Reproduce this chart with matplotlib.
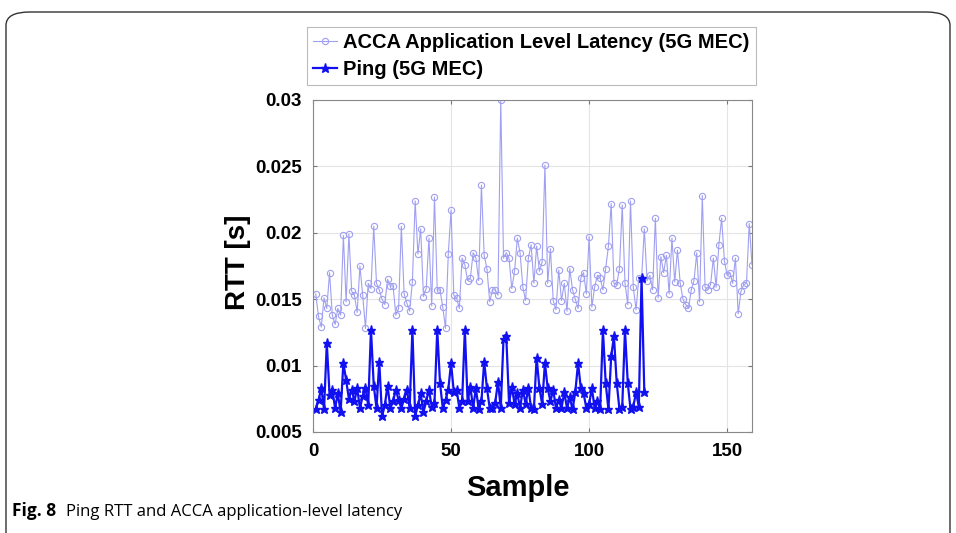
import numpy as np
import matplotlib
matplotlib.use('Agg')
import matplotlib.pyplot as plt
from matplotlib.patches import FancyBboxPatch

# ACCA application level latency (5G MEC), samples 1..159
acca = [0.0154, 0.0137, 0.0129, 0.0151, 0.0143, 0.0170, 0.0138, 0.0131, 0.0143, 0.0138,
        0.0198, 0.0148, 0.0199, 0.0156, 0.0153, 0.0140, 0.0175, 0.0153, 0.0128, 0.0162,
        0.0158, 0.0205, 0.0162, 0.0157, 0.0150, 0.0146, 0.0165, 0.0160, 0.0160, 0.0138,
        0.0143, 0.0205, 0.0154, 0.0147, 0.0141, 0.0163, 0.0224, 0.0184, 0.0203, 0.0152,
        0.0158, 0.0196, 0.0145, 0.0227, 0.0157, 0.0157, 0.0144, 0.0128, 0.0184, 0.0217,
        0.0153, 0.0151, 0.0143, 0.0181, 0.0176, 0.0164, 0.0166, 0.0185, 0.0181, 0.0164,
        0.0236, 0.0183, 0.0173, 0.0148, 0.0157, 0.0157, 0.0153, 0.0300, 0.0181, 0.0185,
        0.0181, 0.0158, 0.0171, 0.0196, 0.0185, 0.0159, 0.0149, 0.0181, 0.0191, 0.0162,
        0.0190, 0.0171, 0.0178, 0.0251, 0.0162, 0.0188, 0.0149, 0.0142, 0.0172, 0.0149,
        0.0162, 0.0141, 0.0173, 0.0157, 0.0150, 0.0143, 0.0166, 0.0170, 0.0154, 0.0197,
        0.0144, 0.0159, 0.0168, 0.0166, 0.0157, 0.0173, 0.0190, 0.0222, 0.0162, 0.0161,
        0.0173, 0.0221, 0.0162, 0.0146, 0.0224, 0.0159, 0.0142, 0.0166, 0.0165, 0.0203,
        0.0164, 0.0168, 0.0157, 0.0211, 0.0151, 0.0182, 0.0170, 0.0183, 0.0154, 0.0196,
        0.0163, 0.0187, 0.0162, 0.0150, 0.0146, 0.0143, 0.0157, 0.0164, 0.0185, 0.0148,
        0.0228, 0.0159, 0.0157, 0.0161, 0.0181, 0.0159, 0.0191, 0.0211, 0.0179, 0.0168,
        0.0170, 0.0162, 0.0181, 0.0139, 0.0156, 0.0161, 0.0162, 0.0207, 0.0176]

# Ping RTT (5G MEC), samples 1..120
ping = [0.0067, 0.0074, 0.0083, 0.0067, 0.0117, 0.0078, 0.0082, 0.0068, 0.0079, 0.0065,
        0.0102, 0.0089, 0.0075, 0.0082, 0.0073, 0.0083, 0.0068, 0.0077, 0.0083, 0.0070,
        0.0127, 0.0085, 0.0068, 0.0103, 0.0062, 0.0070, 0.0085, 0.0068, 0.0073, 0.0082,
        0.0074, 0.0068, 0.0075, 0.0082, 0.0068, 0.0127, 0.0062, 0.0070, 0.0079, 0.0065,
        0.0073, 0.0082, 0.0069, 0.0072, 0.0127, 0.0087, 0.0068, 0.0074, 0.0082, 0.0102,
        0.0080, 0.0082, 0.0068, 0.0073, 0.0127, 0.0073, 0.0084, 0.0068, 0.0083, 0.0067,
        0.0073, 0.0103, 0.0083, 0.0068, 0.0068, 0.0072, 0.0088, 0.0068, 0.0120, 0.0122,
        0.0072, 0.0084, 0.0071, 0.0079, 0.0068, 0.0082, 0.0071, 0.0083, 0.0068, 0.0067,
        0.0106, 0.0083, 0.0071, 0.0102, 0.0083, 0.0073, 0.0082, 0.0068, 0.0074, 0.0068,
        0.0080, 0.0068, 0.0076, 0.0067, 0.0080, 0.0102, 0.0083, 0.0079, 0.0068, 0.0071,
        0.0083, 0.0068, 0.0073, 0.0067, 0.0127, 0.0087, 0.0067, 0.0107, 0.0122, 0.0087,
        0.0067, 0.0069, 0.0127, 0.0087, 0.0067, 0.0069, 0.0080, 0.0069, 0.0166, 0.0080]

x_ticks = [0, 50, 100, 150]
y_ticks = [0.005, 0.01, 0.015, 0.02, 0.025, 0.03]
y_ticklabels = ['0.005', '0.01', '0.015', '0.02', '0.025', '0.03']

W, H = 956, 533
fig = plt.figure(figsize=(W / 100, H / 100), dpi=100)
fig.patch.set_facecolor('white')

# journal figure frame (open at the bottom)
frame = FancyBboxPatch((6 / W, -0.2), 944 / W, 1 - 12 / H + 0.2,
                       boxstyle='round,pad=0,rounding_size=0.025',
                       transform=fig.transFigure, fill=False,
                       edgecolor='#333333', linewidth=1.0)
fig.patches.append(frame)

ax = fig.add_axes([313 / W, 1 - 432 / H, 439 / W, 332 / H])

xa = np.arange(1, len(acca) + 1)
xp = np.arange(1, len(ping) + 1)
ax.plot(xa, acca, '-o', color='#a0a0f2', linewidth=0.8, markersize=4.5,
        markerfacecolor='none', markeredgewidth=0.8,
        label='ACCA Application Level Latency (5G MEC)')
ax.plot(xp, ping, '-*', color='#1010f0', linewidth=1.6, markersize=6.5,
        markeredgewidth=1.0, label='Ping (5G MEC)')

ax.set_xlim(0, 159)
ax.set_ylim(0.005, 0.03)
ax.set_xticks(x_ticks)
ax.set_yticks(y_ticks)
ax.set_yticklabels(y_ticklabels)
ax.grid(True, color='#e4e4e4', linewidth=0.8)
ax.tick_params(direction='in', length=3, color='#777777', pad=8,
               top=True, right=True)
for lab in ax.get_xticklabels() + ax.get_yticklabels():
    lab.set_fontweight('bold')
    lab.set_fontsize(13.5)
    lab.set_family('Liberation Sans')
for sp in ax.spines.values():
    sp.set_color('#888888')
    sp.set_linewidth(0.8)

ax.set_xlabel('Sample', fontsize=21, fontweight='bold', family='Liberation Sans')
ax.xaxis.set_label_coords(0.467, -0.125)
ax.set_ylabel('RTT [s]', fontsize=20, fontweight='bold', family='Liberation Sans')
ax.yaxis.set_label_coords(-0.142, 0.51)

leg = ax.legend(loc='lower center', bbox_to_anchor=(0.497, 1.045), ncol=1,
                prop={'family': 'Liberation Sans', 'weight': 'bold', 'size': 14.5},
                frameon=True, fancybox=False, handlelength=1.2,
                handletextpad=0.3, borderpad=0.3, labelspacing=0.4,
                borderaxespad=0)
leg.get_frame().set_edgecolor('#aaaaaa')
leg.get_frame().set_linewidth(0.8)

# caption
fig.text(12 / W, 1 - 516 / H, 'Fig. 8', fontsize=12.5, fontweight='bold',
         family='Open Sans', va='baseline', ha='left')
fig.text(66 / W, 1 - 516 / H, 'Ping RTT and ACCA application-level latency',
         fontsize=12, family='Open Sans', va='baseline', ha='left')

fig.savefig('out.png', dpi=100)
